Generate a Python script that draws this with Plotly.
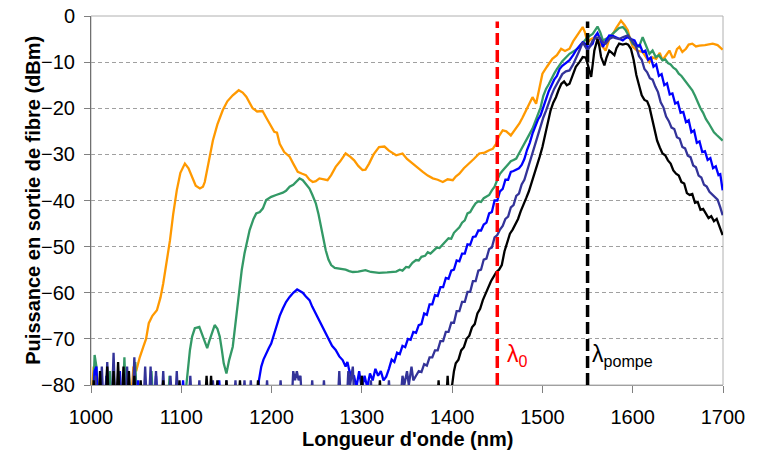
import plotly.graph_objects as go

# ---------------- data : (wavelength nm, power dBm) ----------------
orange_points = [
    (1000, -85), (1003, -76), (1006, -85), (1022, -85), (1025, -79), (1028, -85), (1044, -85), (1047, -76),
    (1050, -77), (1054, -74), (1058, -71.7), (1061, -70), (1064, -66.6), (1068, -65), (1073, -63.8), (1077, -61),
    (1080, -58), (1084, -53), (1087.5, -48.6), (1091, -43), (1095, -37.8), (1099, -34), (1104, -32), (1108, -33),
    (1111, -34.5), (1116, -36.8), (1120.6, -37.4), (1124, -37), (1126, -36), (1130, -32), (1135, -27), (1140, -23.5),
    (1146, -20.4), (1151, -18.5), (1157, -17.2), (1163.6, -16.1), (1168, -16.6), (1172, -17.5), (1176, -19), (1179, -20),
    (1184, -20.7), (1190, -20.6), (1194, -22), (1198, -23.3), (1203, -25.1), (1206, -25.3), (1209, -27.7), (1214, -29.5),
    (1220, -30.5), (1224, -32), (1229, -33.8), (1234, -34.2), (1238, -34.5), (1242, -35.5), (1245.6, -36), (1249, -35.8),
    (1253, -35.2), (1258, -35.4), (1262, -35.6), (1266, -34.5), (1271, -32.7), (1276, -31.5), (1282, -29.8), (1287, -30.5),
    (1291.5, -31.3), (1296, -32.5), (1300.7, -33.4), (1304, -33.3), (1308, -32), (1313, -30), (1319, -28.4), (1325, -28.3),
    (1330, -29.2), (1338, -30.2), (1345, -29.8), (1350, -31), (1356, -32), (1362, -33), (1367.5, -33.8), (1373, -34.6),
    (1378.6, -35.2), (1384, -35.5), (1389.7, -36), (1395, -35.4), (1400.7, -35.6), (1404, -34.8), (1408, -34.2), (1413, -33),
    (1419, -32), (1424, -31), (1430, -29.8), (1436, -29.6), (1441, -29.1), (1445, -28.8), (1448.7, -27.7), (1452, -26),
    (1456, -24.8), (1460, -25), (1465, -25.9), (1470, -24.5), (1474.5, -23.3), (1478, -22), (1482, -20.4), (1486, -19),
    (1489, -17.6), (1493, -19), (1496, -16), (1500, -12.5), (1505, -11), (1511, -9.3), (1516, -8.5), (1520.7, -7.1),
    (1525, -7.6), (1530, -7.1), (1534, -5.5), (1537, -4.6), (1541, -3.5), (1544.6, -2.4), (1547, -3.5), (1550, -5.7),
    (1554, -5), (1559, -4.6), (1564, -6), (1570, -7.5), (1574, -5), (1578, -3.9), (1582, -2.5), (1587, -1),
    (1591, -2), (1594.5, -3.1), (1597, -5), (1600, -6.7), (1605, -7.5), (1611, -7.8), (1615, -9), (1618.5, -10),
    (1622, -9), (1626, -9.3), (1630, -8), (1633, -9.6), (1637, -8.5), (1640.6, -7.5), (1644, -9), (1646, -8.9),
    (1649, -7.2), (1651.7, -6.7), (1655, -7.8), (1659, -7.1), (1662, -6.2), (1666, -6), (1670, -6.6), (1674, -6.4),
    (1680, -6.3), (1685, -6.1), (1688.6, -6), (1694, -6.3), (1699.6, -7.3),
]

green_points = [
    (1000, -85), (1002, -85), (1004, -73.5), (1006, -76), (1008, -85), (1019, -85), (1021, -77), (1023, -85),
    (1035, -85), (1037, -74), (1039, -85), (1047, -85), (1049, -75), (1051, -85), (1065, -85), (1067, -77),
    (1069, -85), (1085, -85), (1087, -78), (1089, -85), (1103, -85), (1106, -79), (1109.6, -72.4), (1112, -69.5),
    (1115, -67.7), (1120, -67.4), (1124, -69.5), (1128.7, -72), (1131, -70.5), (1133.5, -68.8), (1137, -67), (1140, -67.8),
    (1142.6, -69.5), (1145, -72.5), (1147, -75.3), (1150, -77.5), (1153, -74.6), (1157, -71.7), (1161, -65.2), (1164.7, -58.7),
    (1167, -55), (1170, -51.5), (1175.7, -46.4), (1180, -44), (1183, -42.8), (1187, -42.5), (1190.4, -41.7), (1194, -39.9),
    (1199.6, -39.2), (1205, -38.8), (1209, -38.6), (1212.5, -38.3), (1216, -37.9), (1220, -37), (1224, -36.6), (1227, -36),
    (1231, -35.2), (1234.6, -35.6), (1238, -36.4), (1242, -37.4), (1245, -38.7), (1249, -40.6), (1252, -43), (1254.8, -45.7),
    (1257, -48), (1260, -50.8), (1263, -52.8), (1266, -54), (1270, -54.6), (1273, -54.7), (1278, -54.8), (1282, -55),
    (1286, -55.3), (1290, -55.5), (1296, -55.4), (1300, -55.3), (1304, -55.1), (1310, -55.5), (1319, -55.7), (1328, -55.6),
    (1338, -55.4), (1342, -55), (1345, -55.2), (1349, -54.4), (1352, -54.5), (1356, -53.5), (1360, -52.9), (1363, -53),
    (1366, -52.2), (1370, -52), (1373, -51.2), (1376, -51.5), (1380, -50.8), (1383, -50.2), (1386, -50.3), (1390, -49.5),
    (1393, -49), (1396, -48.2), (1399, -48.3), (1402, -47), (1405, -46.4), (1408, -45.8), (1411, -44.8), (1414, -44.3),
    (1417, -42.8), (1420, -42.5), (1423, -41.5), (1426, -40.6), (1429, -40.2), (1432, -40.3), (1435, -39.5), (1438, -39.2),
    (1441, -38.8), (1444, -37.8), (1447, -37), (1450, -35.5), (1453, -34.2), (1456, -33.5), (1459, -32.8), (1462, -32.2),
    (1465, -31.5), (1468, -31.2), (1471, -30.9), (1474, -29.8), (1477, -28.8), (1480, -27.6), (1483, -26.6), (1486, -25.5),
    (1489, -24.4), (1492, -23), (1495, -21.5), (1498, -19.8), (1501, -17.3), (1504, -15.8), (1507, -14.8), (1510, -13.5),
    (1513, -12.5), (1516, -11.5), (1519, -10.5), (1522, -9.8), (1526, -9), (1530, -8.2), (1536, -7.5), (1541, -6.7),
    (1546, -5.5), (1550, -4.6), (1555.7, -3.9), (1561, -2.3), (1564, -3.5), (1567, -5.3), (1570, -5), (1574, -4.6),
    (1578, -3.8), (1581.5, -3.1), (1585, -2.6), (1589, -2.4), (1592, -3), (1594.5, -3.9), (1597, -5), (1600, -6),
    (1604, -6.5), (1607, -6.7), (1611, -4.6), (1615, -6.5), (1618.5, -8.2), (1622, -7.5), (1625.5, -8.9), (1629, -8.5),
    (1633, -9.6), (1636, -9.4), (1639, -10.2), (1642, -10.5), (1645, -11.2), (1648, -11.6), (1651, -12.5), (1654, -13),
    (1657, -13.8), (1660, -14.5), (1663, -15.2), (1666, -16.1), (1669, -17.3), (1672, -18.8), (1675, -20), (1678, -21),
    (1681, -22.3), (1684, -23.2), (1687, -24.3), (1690, -25.2), (1693, -25.8), (1696, -26.4), (1699.6, -27),
]

blue_points = [
    (1000, -85), (1002, -85), (1004, -77), (1006, -76), (1008, -85), (1015, -85), (1017, -78), (1019, -85),
    (1030, -85), (1032, -77), (1034, -85), (1050, -85), (1052, -79), (1054, -85), (1070, -85), (1072, -78),
    (1074, -85), (1100, -85), (1102, -79), (1104, -85), (1140, -85), (1142, -79), (1144, -85), (1184, -85),
    (1186, -79), (1188.6, -76), (1191, -74.5), (1194, -73.1), (1197, -72), (1199.6, -71), (1202, -69.5), (1205, -67.4),
    (1209, -65), (1212.5, -63.4), (1216, -62), (1220, -60.9), (1224, -60), (1228.3, -59.3), (1231, -59.6), (1234.5, -60),
    (1238, -60.8), (1242, -61.6), (1245, -63), (1249, -64.5), (1253, -66), (1256.6, -67.4), (1260, -68.8), (1264, -70.3),
    (1267, -71.5), (1271, -72.4), (1275, -73.8), (1278.7, -74.6), (1282, -76), (1284, -75), (1286, -76.8), (1289, -78.5),
    (1291.5, -78.2), (1294, -80.5), (1297, -77), (1300, -81), (1303, -78), (1306, -80.5), (1309, -77.5), (1312, -79),
    (1315, -76.5), (1318, -78), (1321, -77), (1324, -79), (1327, -78.2), (1330, -76.5), (1333, -74.5), (1336, -75),
    (1339, -73), (1342, -73.3), (1345, -71.5), (1348, -71.8), (1351, -70), (1354, -70.2), (1357, -68.5), (1360, -68.7),
    (1363, -67), (1366, -66.8), (1369, -64.5), (1372, -64.8), (1375, -62.5), (1378, -62.5), (1381, -60.5), (1384, -60.7),
    (1387, -58.8), (1390, -58.8), (1393, -56.8), (1396, -57), (1399, -55.2), (1402, -55), (1405, -53), (1408, -53.2),
    (1411, -51.5), (1414, -51.5), (1417, -49.5), (1420, -49.6), (1423, -47.9), (1426, -47.8), (1429, -46.5), (1432, -46.5),
    (1435, -45.2), (1438, -44.8), (1441, -42.8), (1444, -42.5), (1447, -40), (1450, -40), (1453, -38), (1456, -37.5),
    (1459, -35.5), (1462, -35.5), (1465, -33.8), (1468, -33.6), (1471, -33.2), (1474, -33), (1477, -32.3), (1480, -31),
    (1483, -29), (1486, -27.5), (1489, -25.5), (1492, -24), (1495, -22.5), (1498, -21.5), (1501, -19.5), (1504, -18),
    (1507, -16.3), (1510, -15), (1513, -13.8), (1516, -13), (1519, -11.5), (1522, -10.8), (1526, -10.2), (1530, -9.6),
    (1534, -8.5), (1537, -7.5), (1541, -6.5), (1544.6, -5.7), (1547, -6), (1550, -6.7), (1553, -6.5), (1555.7, -6),
    (1558, -4.5), (1561, -3.7), (1564, -5), (1567, -6.7), (1570, -5.5), (1574, -4.2), (1578, -4.3), (1581.5, -4.6),
    (1585, -5), (1589, -5.3), (1592, -4.8), (1594.5, -4.6), (1598, -5), (1602, -5.3), (1605, -6.5), (1608, -6.3),
    (1611, -7.8), (1614, -7.5), (1617, -9.5), (1620, -9), (1623, -11), (1626, -10.5), (1629, -13), (1632, -12.6),
    (1635, -15), (1638, -14.6), (1641, -17), (1644, -16.8), (1647, -19), (1650, -18.7), (1653, -21), (1656, -20.8),
    (1659, -23), (1662, -22.6), (1665, -25.2), (1668, -24.8), (1671, -27.5), (1674, -27.2), (1677, -29.5), (1680, -29.3),
    (1683, -31.2), (1686, -30.8), (1689, -33), (1692, -32.6), (1695, -34.5), (1697, -34.3), (1699.6, -37.8),
]

navy_points = [
    (1000, -85), (1003, -85), (1005, -78), (1007, -85), (1010, -85), (1012, -76), (1014, -85), (1016, -85),
    (1018, -75), (1020, -85), (1023, -85), (1025, -73), (1027, -85), (1029, -85), (1031, -77), (1033, -85),
    (1038, -85), (1040, -76), (1042, -85), (1046, -85), (1048, -74), (1050, -85), (1058, -85), (1060, -76),
    (1062, -85), (1064, -85), (1066, -76), (1068, -85), (1070, -85), (1072, -77), (1074, -85), (1078, -85),
    (1080, -77), (1082, -85), (1086, -85), (1088, -78), (1090, -85), (1093, -85), (1095, -77), (1097, -85),
    (1108, -85), (1110, -78), (1112, -85), (1118, -85), (1120, -79), (1122, -85), (1133, -85), (1135, -79),
    (1137, -85), (1148, -85), (1150, -79), (1152, -85), (1158, -85), (1160, -79), (1162, -85), (1168, -85),
    (1170, -79), (1172, -85), (1175, -85), (1177, -79), (1179, -85), (1193, -85), (1195, -79), (1197, -85),
    (1208, -85), (1210, -79), (1212, -85), (1222, -85), (1224, -77), (1226, -79), (1228, -77), (1230, -79),
    (1232, -78), (1234, -85), (1243, -85), (1245, -79), (1247, -85), (1256, -85), (1258, -79), (1260, -85),
    (1273, -85), (1275, -77), (1277, -85), (1283, -85), (1285, -77), (1287, -80), (1290, -76), (1292, -85),
    (1298, -85), (1300, -78), (1302, -85), (1308, -85), (1310, -79), (1312, -85), (1328, -85), (1330, -79),
    (1332, -85), (1342, -85), (1345, -78), (1347, -80), (1350, -77), (1352, -80), (1355, -76), (1357, -79),
    (1360, -78), (1363, -77), (1366, -77.2), (1369, -75.5), (1372, -75.8), (1375, -74), (1378, -74), (1381, -72.5),
    (1384, -72.5), (1387, -70.5), (1390, -70.5), (1393, -68.5), (1396, -68.5), (1399, -66.5), (1402, -66.5), (1405, -64),
    (1408, -64), (1411, -62), (1414, -62), (1417, -59.8), (1420, -59.8), (1423, -57.5), (1426, -57.5), (1429, -55.2),
    (1432, -55), (1435, -52.8), (1438, -52.6), (1441, -50.5), (1444, -50.2), (1447, -48), (1450, -47.5), (1453, -46.3),
    (1456, -45.5), (1459, -44), (1462, -43.5), (1465, -41.5), (1468, -41), (1471, -39), (1474, -38.5), (1477, -36.5),
    (1480, -35.5), (1483, -33.5), (1486, -32), (1489, -30), (1492, -28), (1495, -26), (1498, -24), (1501, -22),
    (1504, -20.5), (1507, -18.6), (1510, -17.2), (1513, -15.8), (1516, -14.8), (1519, -13.5), (1522, -12.6), (1526, -12),
    (1530, -11.8), (1534, -10.5), (1537, -9.3), (1541, -7.5), (1544.6, -5.7), (1547, -6.5), (1550, -7.5), (1553, -6.5),
    (1555.7, -5.3), (1559, -4.8), (1563, -4.6), (1566, -5.5), (1570, -6), (1574, -5), (1578, -4.6), (1581, -4.8),
    (1585, -5), (1589, -4.6), (1594.5, -4.2), (1598, -5), (1601, -6), (1604, -6.8), (1607, -8.7), (1610, -9.5),
    (1613, -11.5), (1616, -12.2), (1619, -13.5), (1622, -13.8), (1625, -15.3), (1628, -16.5), (1631, -18.7), (1634, -19.8),
    (1637, -21.8), (1640, -22.8), (1643, -24.2), (1646, -24.5), (1649, -26.3), (1652, -26.6), (1655, -28.4), (1658, -28.7),
    (1661, -30.3), (1664, -30.6), (1667, -32.4), (1670, -32.8), (1673, -34.6), (1676, -35), (1679, -36.6), (1682, -37),
    (1685, -38.1), (1688, -38.6), (1691, -39.3), (1694, -39.8), (1697, -41.5), (1699.6, -43.2),
]

black_points = [
    (1000, -85), (1002, -85), (1003, -79), (1005, -85), (1008, -85), (1010, -77), (1012, -85), (1016, -85),
    (1018, -76), (1020, -85), (1023, -85), (1025, -77), (1027, -85), (1028, -85), (1030, -75), (1032, -85),
    (1034, -85), (1036, -76), (1038, -85), (1040, -85), (1042, -77), (1044, -85), (1046, -85), (1048, -78),
    (1050, -85), (1053, -85), (1055, -79), (1057, -85), (1078, -85), (1080, -79), (1082, -85), (1096, -85),
    (1098, -79), (1100, -85), (1126, -85), (1128, -78), (1130, -85), (1131, -85), (1133, -78), (1135, -85),
    (1138, -85), (1140, -79), (1142, -85), (1148, -85), (1150, -79), (1152, -85), (1163, -85), (1165, -79),
    (1167, -85), (1183, -85), (1185, -79), (1187, -85), (1298, -85), (1300, -78), (1302, -85), (1318, -85),
    (1320, -79), (1322, -85), (1383, -85), (1385, -79), (1387, -85), (1393, -85), (1395, -78), (1397, -85),
    (1400, -80), (1402, -77), (1404, -75.3), (1407, -74.5), (1410, -72.5), (1413, -71.8), (1416, -70), (1419, -69.3),
    (1422, -67.5), (1425, -66.8), (1428, -64.5), (1431, -63.5), (1434, -61.6), (1437, -60.2), (1440, -58.5), (1443, -57.5),
    (1446, -56.5), (1449, -55.5), (1452, -55), (1455, -54), (1458, -51), (1461, -49), (1464, -47.2), (1467, -46.3),
    (1470, -45.3), (1473, -44), (1476, -42.3), (1479, -41), (1482, -39.5), (1485, -38), (1488, -36.2), (1491, -34.5),
    (1494, -32.5), (1497, -30.5), (1500, -28.4), (1503, -25.5), (1506, -23), (1509, -20.5), (1512, -18.8), (1515, -17.6),
    (1518, -16), (1521, -14.7), (1524, -14.2), (1527, -15), (1530, -14.7), (1534, -12.5), (1537, -11), (1541, -10),
    (1544.6, -8.9), (1548, -9), (1550, -10.4), (1552, -12), (1554, -13.2), (1556, -10), (1557.5, -7.5), (1561, -5),
    (1563, -6.5), (1565, -8.9), (1568.6, -10.7), (1571, -9), (1574, -7.5), (1577, -8), (1579.7, -8.5), (1582, -7),
    (1585, -6), (1589, -6.2), (1592.6, -6), (1595, -6.2), (1598, -7.1), (1601, -9.5), (1604, -12.8), (1607, -15),
    (1610, -17.2), (1613, -18.2), (1616, -18.5), (1618.5, -19.7), (1621, -22), (1624, -24.8), (1627, -27), (1630, -28.5),
    (1633, -29.8), (1636, -30.2), (1639, -31.3), (1642, -32), (1645, -33.5), (1648, -34.2), (1651, -34.6), (1654, -36),
    (1657, -36.3), (1660, -38.4), (1663, -38.8), (1666, -38.6), (1669, -40.5), (1672, -40.3), (1675, -42), (1678, -41.8),
    (1681, -42.8), (1684, -43.8), (1687, -43.4), (1690, -44.5), (1693, -44), (1696, -45.5), (1699.6, -47.5),
]

lambda0 = 1450          # nm, zero-dispersion wavelength
lambda_pompe = 1550     # nm, pump wavelength
marker_top = -1.2       # dBm, top of the dashed markers
y_floor = -80

x_ticks = [1000, 1100, 1200, 1300, 1400, 1500, 1600, 1700]
y_ticks = [0, -10, -20, -30, -40, -50, -60, -70, -80]

series = [
    (orange_points, "#FF9900"),
    (green_points, "#339966"),
    (blue_points, "#0000FF"),
    (navy_points, "#333399"),
    (black_points, "#000000"),
]

FONT = "Liberation Sans, Arial, sans-serif"

fig = go.Figure()
for pts, col in series:
    xs = [p[0] for p in pts]
    ys = [p[1] for p in pts]
    fig.add_trace(go.Scatter(x=xs, y=ys, mode="lines",
                             line=dict(color=col, width=2.3),
                             hoverinfo="skip", showlegend=False))

fig.add_trace(go.Scatter(x=[lambda0, lambda0], y=[y_floor, marker_top], mode="lines",
                         line=dict(color="#FF0000", width=3.5, dash="12px,5px"),
                         hoverinfo="skip", showlegend=False))
fig.add_trace(go.Scatter(x=[lambda_pompe, lambda_pompe], y=[y_floor, marker_top], mode="lines",
                         line=dict(color="#000000", width=3.5, dash="12px,5px"),
                         hoverinfo="skip", showlegend=False))

fig.add_annotation(x=lambda0 + 9, y=-73.5, xref="x", yref="y", xanchor="left", yanchor="middle",
                   text="λ<sub>0</sub>", showarrow=False,
                   font=dict(family=FONT, size=23, color="#FF0000"))
fig.add_annotation(x=lambda_pompe + 3, y=-73.5, xref="x", yref="y", xanchor="left", yanchor="middle",
                   text="λ<sub>pompe</sub>", showarrow=False,
                   font=dict(family=FONT, size=23, color="#000000"))

# axis titles as annotations for precise placement
fig.add_annotation(x=0.5, y=-0.145, xref="paper", yref="paper", xanchor="center", yanchor="middle",
                   text="<b>Longueur d'onde (nm)</b>", showarrow=False, borderpad=0,
                   font=dict(family=FONT, size=20, color="#000000"))
fig.add_annotation(x=-0.093, y=0.5, xref="paper", yref="paper", xanchor="center", yanchor="middle",
                   text="<b>Puissance en sortie de fibre (dBm)</b>", showarrow=False, textangle=-90,
                   font=dict(family=FONT, size=20, color="#000000"))

# right / top border
fig.add_shape(type="rect", xref="paper", yref="paper", x0=0, x1=1, y0=0, y1=1,
              line=dict(color="#B0B0B0", width=1), layer="below")

fig.update_layout(
    width=766, height=451,
    margin=dict(l=91, r=43, t=16, b=66, autoexpand=False),
    paper_bgcolor="white", plot_bgcolor="white",
    font=dict(family=FONT, size=20, color="#000000"),
    xaxis=dict(range=[1000, 1700], tickvals=x_ticks, ticks="outside", ticklen=7,
               tickcolor="#808080", showline=True, linecolor="#A0A0A0", linewidth=1,
               showgrid=False, zeroline=False, ticklabelstandoff=7, fixedrange=True,
               automargin=False),
    yaxis=dict(range=[-80, 0], tickvals=y_ticks, ticks="outside", ticklen=6,
               tickcolor="#808080", showline=True, linecolor="#707070", linewidth=1,
               showgrid=True, gridcolor="#A0A0A0", griddash="4px,3px", gridwidth=1,
               zeroline=False, ticklabelstandoff=5, fixedrange=True, automargin=False),
)

fig.write_html("out.html")
